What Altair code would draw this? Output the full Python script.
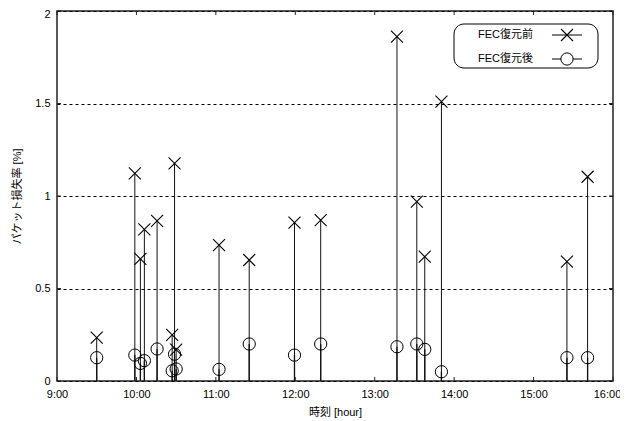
import altair as alt
import pandas as pd

# ---- data ----
hours = [9.50, 9.98, 10.05, 10.10, 10.26, 10.45, 10.48, 10.50, 11.04, 11.42,
         11.99, 12.32, 13.28, 13.53, 13.63, 13.84, 15.42, 15.68]
before = [0.234, 1.122, 0.66, 0.82, 0.866, 0.249, 1.176, 0.17, 0.735, 0.654,
          0.856, 0.87, 1.861, 0.969, 0.672, 1.51, 0.645, 1.104]
after = [0.126, 0.14, 0.095, 0.11, 0.173, 0.055, 0.145, 0.065, 0.063, 0.2,
         0.14, 0.2, 0.185, 0.2, 0.171, 0.05, 0.126, 0.126]
x_ticks = [9, 10, 11, 12, 13, 14, 15, 16]
y_ticks = [0, 0.5, 1, 1.5, 2]
legend_labels = ["FEC復元前", "FEC復元後"]

W, H = 556, 370
FONT = "Liberation Sans, Arial, Noto Sans CJK JP, sans-serif"
X_SHAPE = "M-1,-1L1,1M1,-1L-1,1"

df = pd.DataFrame({"hour": hours, "before": before, "after": after})
xt = pd.DataFrame({"t": x_ticks})
yt = pd.DataFrame({"v": y_ticks})

xs = alt.Scale(domain=[9, 16], nice=False, zero=False)
ys = alt.Scale(domain=[0, 2], nice=False)

x_axis = alt.Axis(values=x_ticks, labelExpr="datum.value + ':00'", title="時刻 [hour]",
                  ticks=False, grid=False, domain=False, labelPadding=7, titlePadding=7,
                  labelFontSize=11, titleFontSize=11, labelColor="black", titleColor="black",
                  labelFont=FONT, titleFont=FONT, titleFontWeight="normal",
                  labelFlush=False,
                  labelOffset=alt.condition("datum.value == 16", alt.value(-6), alt.value(0)))
y_axis = alt.Axis(values=y_ticks, format="~g", title="パケット損失率 [%]", ticks=False,
                  domain=False, grid=True, gridColor="black", gridDash=[3, 3], gridWidth=1,
                  gridOpacity=1, labelPadding=7, labelFontSize=11, titleFontSize=11,
                  labelColor="black", titleColor="black", labelFont=FONT, titleFont=FONT,
                  titleFontWeight="normal", labelFlush=False,
                  labelOffset=alt.condition("datum.value == 2", alt.value(3), alt.value(0)),
                  titleX=-40, titleY=H / 2, titleAngle=270, titleBaseline="middle",
                  titleAlign="center")

base = alt.Chart(df)

grid = alt.Chart(yt).mark_rule(opacity=0).encode(
    x=alt.X("hour:Q", scale=xs, axis=x_axis),
    y=alt.Y("v:Q", scale=ys, axis=y_axis),
).transform_calculate(hour="9")

imp_before = base.mark_rule(color="#111", strokeWidth=1).encode(
    x=alt.X("hour:Q", scale=xs), y=alt.Y("before:Q", scale=ys), y2=alt.datum(0))
imp_after = base.mark_rule(color="#111", strokeWidth=1.3).encode(
    x=alt.X("hour:Q", scale=xs), y=alt.Y("after:Q", scale=ys), y2=alt.datum(0))
pts_before = base.mark_point(shape=X_SHAPE, size=144, color="black", strokeWidth=1.1,
                             opacity=1).encode(
    x=alt.X("hour:Q", scale=xs), y=alt.Y("before:Q", scale=ys))
pts_after = base.mark_point(shape="circle", size=150, color="black", strokeWidth=1,
                            opacity=1).encode(
    x=alt.X("hour:Q", scale=xs), y=alt.Y("after:Q", scale=ys))

# inward tick marks (bottom/top/left/right)
tk = dict(color="#222", strokeWidth=1)
tick_bottom = alt.Chart(xt).mark_rule(**tk).encode(
    x=alt.X("t:Q", scale=xs), y=alt.value(H), y2=alt.value(H - 4))
tick_top = alt.Chart(xt).mark_rule(**tk).encode(
    x=alt.X("t:Q", scale=xs), y=alt.value(0), y2=alt.value(4))
tick_left = alt.Chart(yt).mark_rule(**tk).encode(
    y=alt.Y("v:Q", scale=ys), x=alt.value(0), x2=alt.value(4))
tick_right = alt.Chart(yt).mark_rule(**tk).encode(
    y=alt.Y("v:Q", scale=ys), x=alt.value(W), x2=alt.value(W - 4))

# custom legend (labels left, symbols right)
leg = pd.DataFrame({"label": legend_labels, "row": [0, 1]})
LX0, LX1, LY0, LY1 = 397, 541, 13, 57
legend_box = alt.Chart(pd.DataFrame({"a": [0]})).mark_rect(
    fill="white", stroke="black", strokeWidth=1, cornerRadius=10).encode(
    x=alt.value(LX0), x2=alt.value(LX1), y=alt.value(LY0), y2=alt.value(LY1))
row_y = alt.Scale(domain=[0, 1], range=[24, 48])
legend_text = alt.Chart(leg).mark_text(align="right", baseline="middle", font=FONT,
                                       fontSize=11, color="black").encode(
    x=alt.value(476), y=alt.Y("row:Q", scale=row_y, axis=None), text="label:N")
legend_line = alt.Chart(leg).mark_rule(color="black", strokeWidth=1).encode(
    x=alt.value(495), x2=alt.value(525), y=alt.Y("row:Q", scale=row_y, axis=None))
legend_x = alt.Chart(leg).transform_filter("datum.row == 0").mark_point(
    shape=X_SHAPE, size=144, color="black", strokeWidth=1.1, opacity=1).encode(
    x=alt.value(510), y=alt.Y("row:Q", scale=row_y, axis=None))
legend_o = alt.Chart(leg).transform_filter("datum.row == 1").mark_point(
    shape="circle", size=150, color="black", fill="white", filled=True, stroke="black",
    strokeWidth=1, opacity=1).encode(
    x=alt.value(510), y=alt.Y("row:Q", scale=row_y, axis=None))

legend = alt.layer(legend_box, legend_text, legend_line, legend_x, legend_o).resolve_scale(y="independent")

main = alt.layer(grid, imp_before, imp_after, pts_before, pts_after,
                 tick_bottom, tick_top, tick_left, tick_right)

chart = alt.layer(main, legend).resolve_scale(y="independent").properties(
    width=W, height=H,
    autosize=alt.AutoSizeParams(type="none"),
    padding={"left": 49, "top": 3, "right": 7, "bottom": 40},
    background="white",
).configure_view(stroke="#222", strokeWidth=1.5)

chart.save("out.html", embed_options={"renderer": "svg", "actions": False})
